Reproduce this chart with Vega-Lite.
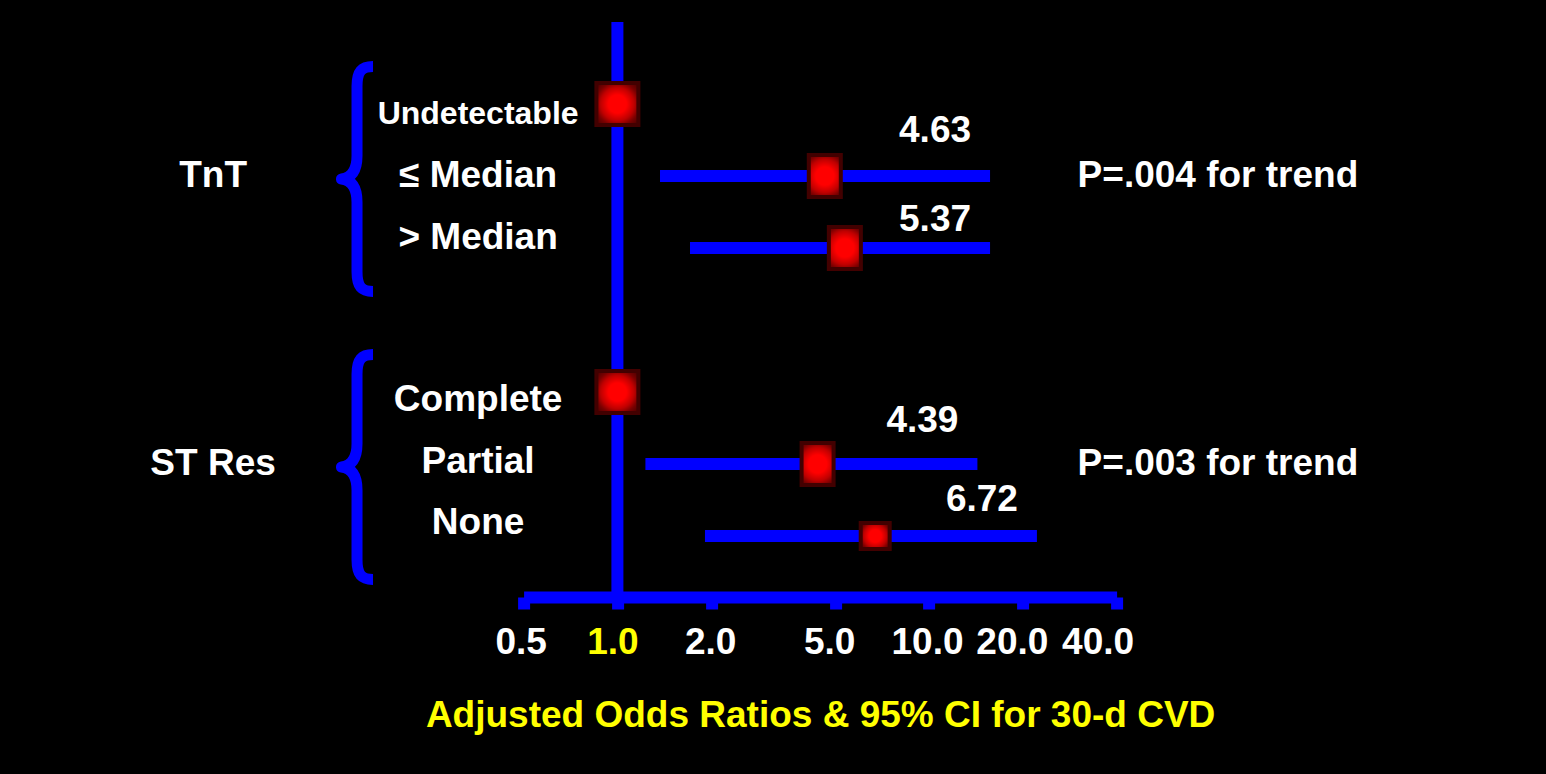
{
  "$schema": "https://vega.github.io/schema/vega-lite/v6.json",
  "width": 593,
  "height": 575,
  "autosize": {"type": "none"},
  "padding": {"left": 523.6, "top": 22, "right": 429.4, "bottom": 177},
  "background": "#000000",
  "config": {
    "view": {"stroke": null},
    "font": "Liberation Sans",
    "text": {"font": "Liberation Sans", "fontWeight": "bold", "fontSize": 37, "fill": "#ffffff", "align": "center", "baseline": "middle"}
  },
  "datasets": {
    "rows": [
      {"group": "TnT", "row": "Undetectable", "or": 1, "lo": null, "hi": null, "label": null},
      {"group": "TnT", "row": "≤ Median", "or": 4.63, "lo": 1.37, "hi": 15.7, "label": "4.63"},
      {"group": "TnT", "row": "> Median", "or": 5.37, "lo": 1.71, "hi": 15.7, "label": "5.37"},
      {"group": "ST Res", "row": "Complete", "or": 1, "lo": null, "hi": null, "label": null},
      {"group": "ST Res", "row": "Partial", "or": 4.39, "lo": 1.23, "hi": 14.3, "label": "4.39"},
      {"group": "ST Res", "row": "None", "or": 6.72, "lo": 1.91, "hi": 22.2, "label": "6.72"}
    ],
    "groups": [
      {"group": "TnT", "row": "≤ Median", "trend": "P=.004 for trend"},
      {"group": "ST Res", "row": "Partial", "trend": "P=.003 for trend"}
    ],
    "reference": [{"ref": 1}]
  },
  "layer": [
    {
      "data": {"name": "reference"},
      "mark": {"type": "rule", "color": "#0000ff", "strokeWidth": 12},
      "encoding": {"x": {"field": "ref", "type": "quantitative"}}
    },
    {
      "data": {"name": "rows"},
      "transform": [{"filter": "isValid(datum.lo)"}],
      "mark": {"type": "rule", "color": "#0000ff", "strokeWidth": 12},
      "encoding": {
        "x": {
          "field": "lo", "type": "quantitative",
          "scale": {"type": "log", "domain": [0.5, 40], "nice": false, "zero": false},
          "axis": {
            "values": [0.5, 1, 2, 5, 10, 20, 40],
            "format": ".1f",
            "grid": false,
            "labelColor": {"condition": {"test": "datum.value === 1", "value": "#ffff00"}, "value": "#ffffff"},
            "labelFont": "Liberation Sans", "labelFontWeight": "bold", "labelFontSize": 37,
            "labelPadding": 15, "labelFlush": false, "labelOverlap": false, "labelLimit": 0,
            "labelOffset": {"condition": [
              {"test": "datum.value === 0.5", "value": -3},
              {"test": "datum.value === 1", "value": -5},
              {"test": "datum.value === 2", "value": -1},
              {"test": "datum.value === 5", "value": -6},
              {"test": "datum.value === 10", "value": -2},
              {"test": "datum.value === 20", "value": -11},
              {"test": "datum.value === 40", "value": -19}
            ], "value": 0},
            "domainColor": "#0000ff", "domainWidth": 12,
            "tickColor": "#0000ff", "tickWidth": 12, "tickSize": 12,
            "title": "Adjusted Odds Ratios & 95% CI for 30-d CVD",
            "titleColor": "#ffff00", "titleFont": "Liberation Sans", "titleFontWeight": "bold", "titleFontSize": 37,
            "titlePadding": 37
          }
        },
        "x2": {"field": "hi"},
        "y": {
          "field": "row", "type": "nominal",
          "scale": {"type": "point", "domain": ["Undetectable", "≤ Median", "> Median", "gap", "Complete", "Partial", "None"], "range": [82, 514], "padding": 0},
          "axis": {
            "title": null, "domain": false, "ticks": false, "grid": false,
            "labelColor": "#ffffff", "labelFont": "Liberation Sans", "labelFontWeight": "bold",
            "labelFontSize": {"condition": {"test": "datum.value === 'Undetectable'", "value": 32}, "value": 37},
            "labelAlign": "center", "labelBaseline": "middle", "labelPadding": 46, "labelLimit": 0, "labelOverlap": false,
            "labelExpr": "datum.value === 'gap' ? '' : datum.value",
            "labelOffset": {"condition": [
              {"test": "datum.value === 'Undetectable'", "value": 9},
              {"test": "datum.value === '≤ Median'", "value": -1},
              {"test": "datum.value === '> Median'", "value": -11},
              {"test": "datum.value === 'Complete'", "value": 7},
              {"test": "datum.value === 'Partial'", "value": -3},
              {"test": "datum.value === 'None'", "value": -14}
            ], "value": 0}
          }
        }
      }
    },
    {
      "data": {"name": "rows"},
      "mark": {
        "type": "point", "filled": true, "opacity": 1,
        "fill": {"gradient": "radial", "x1": 0.5, "y1": 0.5, "r1": 0, "x2": 0.5, "y2": 0.5, "r2": 0.72,
          "stops": [
            {"offset": 0, "color": "#ff0000"},
            {"offset": 0.3, "color": "#ff0000"},
            {"offset": 0.55, "color": "#c00000"},
            {"offset": 0.72, "color": "#7a0000"},
            {"offset": 1, "color": "#3a0000"}
          ]},
        "stroke": "#420000", "strokeWidth": 4
      },
      "encoding": {
        "x": {"field": "or", "type": "quantitative"},
        "y": {"field": "row", "type": "nominal"},
        "shape": {
          "field": "row", "type": "nominal", "legend": null,
          "scale": {
            "domain": ["Undetectable", "≤ Median", "> Median", "Complete", "Partial", "None"],
            "range": [
              "M-0.913,-0.913L0.913,-0.913L0.913,0.913L-0.913,0.913Z",
              "M-0.696,-0.913L0.696,-0.913L0.696,0.913L-0.696,0.913Z",
              "M-0.696,-0.913L0.696,-0.913L0.696,0.913L-0.696,0.913Z",
              "M-0.913,-0.913L0.913,-0.913L0.913,0.913L-0.913,0.913Z",
              "M-0.696,-0.913L0.696,-0.913L0.696,0.913L-0.696,0.913Z",
              "M-0.63,-0.565L0.63,-0.565L0.63,0.565L-0.63,0.565Z"
            ]
          }
        },
        "size": {"value": 2116}
      }
    },
    {
      "data": {"name": "rows"},
      "transform": [{"filter": "isValid(datum.label)"}],
      "mark": {"type": "text", "dx": -55, "dy": {"expr": "datum.row === '≤ Median' ? -45 : datum.row === '> Median' ? -28 : datum.row === 'Partial' ? -43 : -36"}},
      "encoding": {
        "x": {"field": "hi", "type": "quantitative"},
        "y": {"field": "row", "type": "nominal"},
        "text": {"field": "label"}
      }
    },
    {
      "data": {"name": "groups"},
      "mark": {
        "type": "point", "filled": false, "opacity": 1, "color": "#0000ff", "strokeWidth": 11, "strokeCap": "butt", "strokeJoin": "round", "yOffset": 3,
        "shape": "M0.138,-0.97C0.04,-0.97 0,-0.93 0,-0.8L0,-0.2C0,-0.07 -0.05,-0.01 -0.134,0C-0.05,0.01 0,0.07 0,0.2L0,0.8C0,0.93 0.04,0.97 0.138,0.97"
      },
      "encoding": {
        "x": {"datum": 0.146, "type": "quantitative"},
        "y": {"field": "row", "type": "nominal"},
        "size": {"value": 53824}
      }
    },
    {
      "data": {"name": "groups"},
      "mark": {"type": "text", "dy": 0},
      "encoding": {
        "x": {"datum": 0.0504, "type": "quantitative"},
        "y": {"field": "row", "type": "nominal"},
        "text": {"field": "group"}
      }
    },
    {
      "data": {"name": "groups"},
      "mark": {"type": "text", "dy": 0},
      "encoding": {
        "x": {"datum": 84.6, "type": "quantitative"},
        "y": {"field": "row", "type": "nominal"},
        "text": {"field": "trend"}
      }
    }
  ]
}
